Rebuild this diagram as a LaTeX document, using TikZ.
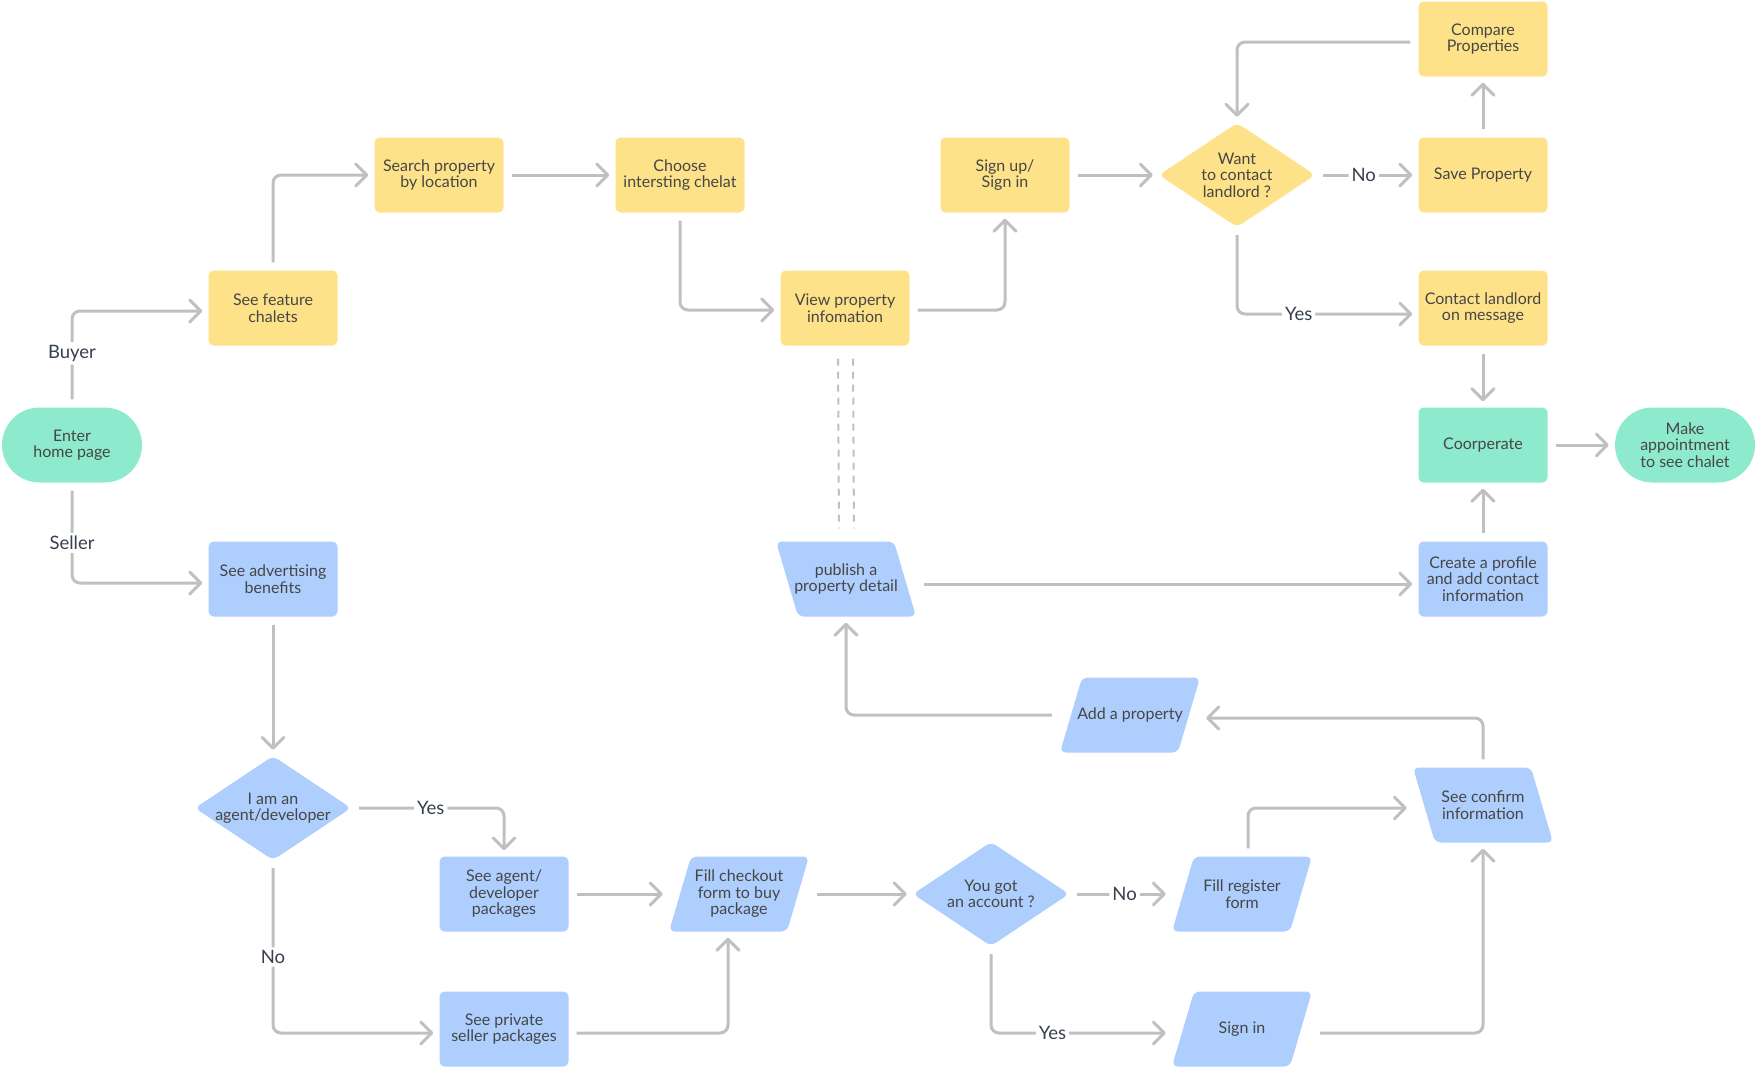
\documentclass[tikz,border=0pt]{standalone}
\usepackage{fontspec}
\newfontfamily\boxfont{Lato}
\usetikzlibrary{arrows.meta,positioning,calc}
\definecolor{cyellow}{RGB}{254,226,138}
\definecolor{cblue}{RGB}{174,206,253}
\definecolor{cgreen}{RGB}{142,234,205}
\definecolor{lgray}{RGB}{192,192,192}
\definecolor{txtgray}{RGB}{70,70,70}
\definecolor{lblgray}{RGB}{55,64,76}

\begin{document}
\begin{tikzpicture}[x=1pt,y=-1pt,>={Straight Barb[length=11pt,width=22pt,round]},
  base/.style={rectangle,minimum width=129pt,minimum height=75pt,inner sep=2pt,align=center,
    text=txtgray,font=\boxfont\fontsize{16pt}{16.5pt}\selectfont},
  yellowbox/.style={base,fill=cyellow,rounded corners=5pt},
  bluebox/.style={base,fill=cblue,rounded corners=5pt},
  greenbox/.style={base,fill=cgreen,rounded corners=5pt},
  pill/.style={base,fill=cgreen,rounded corners=37.5pt,minimum width=140pt},
  dia/.style={base,minimum width=156pt,minimum height=104pt,
    path picture={\fill[#1,rounded corners=6pt] (path picture bounding box.north)
      -- (path picture bounding box.east) -- (path picture bounding box.south)
      -- (path picture bounding box.west) -- cycle;}},
  rpara/.style={base,minimum width=140pt,
    path picture={\fill[cblue,rounded corners=6pt] (path picture bounding box.south west)
      -- ([xshift=-22pt]path picture bounding box.south east) -- (path picture bounding box.north east)
      -- ([xshift=22pt]path picture bounding box.north west) -- cycle;}},
  lpara/.style={base,minimum width=140pt,
    path picture={\fill[cblue,rounded corners=6pt] (path picture bounding box.north west)
      -- ([xshift=-22pt]path picture bounding box.north east) -- (path picture bounding box.south east)
      -- ([xshift=22pt]path picture bounding box.south west) -- cycle;}},
  conn/.style={->,draw=lgray,line width=3pt,rounded corners=8pt,shorten <=8pt,shorten >=6pt},
  lbl/.style={fill=white,inner sep=3pt,text=lblgray,font=\boxfont\fontsize{18.5pt}{20pt}\selectfont},
  dashlink/.style={draw=lgray,line width=2pt,dash pattern=on 7pt off 6pt,shorten <=13pt,shorten >=13pt}]
\useasboundingbox (0,0) rectangle (1757,1069);

% buyer side
\node[pill] (enter) at (72,445) {Enter\\home page};
\node[yellowbox] (feature) at (273,308) {See feature\\chalets};
\node[yellowbox] (search) at (439,175) {Search property\\by location};
\node[yellowbox] (choose) at (680,175) {Choose\\intersting chelat};
\node[yellowbox] (view) at (845,308) {View property\\infomation};
\node[yellowbox] (signup) at (1005,175) {Sign up/\\Sign in};
\node[dia=cyellow] (want) at (1237,175) {Want\\to contact\\landlord ?};
\node[yellowbox] (save) at (1483,175) {Save Property};
\node[yellowbox] (compare) at (1483,39) {Compare\\Properties};
\node[yellowbox] (contact) at (1483,308) {Contact landlord\\on message};
\node[greenbox] (coop) at (1483,445) {Coorperate};
\node[pill] (appoint) at (1685,445) {Make\\appointment\\to see chalet};

% seller side
\node[bluebox] (advert) at (273,579) {See advertising\\benefits};
\node[lpara] (publish) at (846,579) {publish a\\property detail};
\node[bluebox] (profile) at (1483,579) {Create a profile\\and add contact\\information};
\node[rpara] (addprop) at (1130,715) {Add a property};
\node[dia=cblue] (agent) at (273,808) {I am an\\agent/developer};
\node[lpara] (confirm) at (1483,805) {See confirm\\information};
\node[bluebox] (agentpkg) at (504,894) {See agent/\\developer\\packages};
\node[rpara] (checkout) at (739,894) {Fill checkout\\form to buy\\package};
\node[dia=cblue] (account) at (991,894) {You got\\an account ?};
\node[rpara] (register) at (1242,894) {Fill register\\form};
\node[bluebox] (private) at (504,1029) {See private\\seller packages};
\node[rpara] (signin) at (1242,1029) {Sign in};

\draw[conn] (enter.north) |- node[lbl,pos=0.28]{Buyer} ([yshift=-3pt]feature.west);
\draw[conn] (enter.south) |- node[lbl,pos=0.3]{Seller} ([yshift=-4pt]advert.west);
\draw[conn] (feature.north) |- (search.west);
\draw[conn] (search.east) -- (choose.west);
\draw[conn] (choose.south) |- ([yshift=-2pt]view.west);
\draw[conn] ([yshift=-2pt]view.east) -| (signup.south);
\draw[conn] (signup.east) -- (want.west);
\draw[conn] (want.east) -- node[lbl,pos=0.47]{No} (save.west);
\draw[conn] (save.north) -- (compare.south);
\draw[conn] ([yshift=-3pt]compare.west) -| (want.north);
\draw[conn] (want.south) |- node[lbl,pos=0.67]{Yes} ([yshift=-6pt]contact.west);
\draw[conn] (contact.south) -- (coop.north);
\draw[conn] (coop.east) -- (appoint.west);
\draw[conn] (profile.north) -- (coop.south);
\draw[conn] ([yshift=-5pt]publish.east) -- ([yshift=-5pt]profile.west);
\draw[dashlink] ([xshift=-7pt]view.south) -- ([xshift=-7pt]publish.north);
\draw[dashlink] ([xshift=8pt]view.south) -- ([xshift=8pt]publish.north);

\draw[conn] (advert.south) -- (agent.north);
\draw[conn] (agent.east) -| node[lbl,pos=0.26]{Yes} (agentpkg.north);
\draw[conn] (agent.south) |- node[lbl,pos=0.28]{No} ([yshift=-4pt]private.west);
\draw[conn] (agentpkg.east) -- (checkout.west);
\draw[conn] ([yshift=-4pt]private.east) -| ([xshift=-11pt]checkout.south);
\draw[conn] (checkout.east) -- (account.west);
\draw[conn] (account.east) -- node[lbl,pos=0.54]{No} (register.west);
\draw[conn] (account.south) |- node[lbl,pos=0.67]{Yes} ([yshift=-4pt]signin.west);
\draw[conn] ([xshift=6pt]register.north) |- ([yshift=-3pt]confirm.west);
\draw[conn] ([yshift=-4pt]signin.east) -| (confirm.south);
\draw[conn] (confirm.north) |- ([yshift=-3pt]addprop.east);
\draw[conn] (addprop.west) -| (publish.south);
\end{tikzpicture}
\end{document}
